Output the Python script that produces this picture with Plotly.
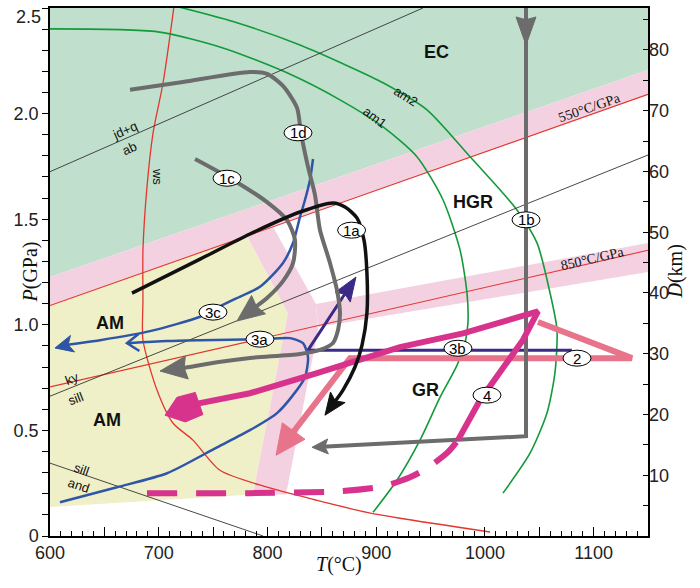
import math
import plotly.graph_objects as go

# ---------------- axes ----------------
T_RANGE = [600, 1150]
P_RANGE = [0, 2.5]
D_RANGE = [0, 86.9]
x_tickvals = [600, 650, 700, 750, 800, 850, 900, 950, 1000, 1050, 1100, 1150]
x_ticktext = ["600", "", "700", "", "800", "", "900", "", "1000", "", "1100", ""]
y_tickvals = [0, 0.5, 1.0, 1.5, 2.0, 2.5]
y_ticktext = ["0", "0.5", "1.0", "1.5", "2.0", ""]
y_top_label = "2.5"
d_tickvals = [10, 20, 30, 40, 50, 60, 70, 80]

# ---------------- background fields ----------------
ec_T = [600, 1150, 1150, 600]
ec_P = [2.5, 2.5, 2.207, 1.226]
band550_T = [600, 1150, 1150, 600]
band550_P = [1.226, 2.207, 2.091, 1.091]
am_T = [600, 781.2, 818.9, 786.7, 600]
am_P = [1.091, 1.420, 1.055, 0.197, 0.137]
solband_T = [781.2, 805.1, 844.6, 846.5, 817.1, 786.7, 818.9]
solband_P = [1.420, 1.464, 1.098, 0.975, 0.197, 0.197, 1.055]
band850_T = [844.6, 1150, 1150, 846.5]
band850_P = [1.098, 1.387, 1.250, 0.989]

# ---------------- reference lines ----------------
geo550_T = [600, 1150]
geo550_P = [1.091, 2.091]
geo850_T = [600, 1150]
geo850_P = [0.706, 1.353]
jdab_T = [600, 943]
jdab_P = [1.725, 2.5]
kysill_T = [600, 1150]
kysill_P = [0.662, 1.804]
silland_T = [600, 796]
silland_P = [0.345, 0.0]
ws_T = [714, 704, 694.8, 689.2, 685.5, 685.5, 685.5, 698.4, 713, 731.5, 756.3, 799.6, 845.6, 891.5, 921.9, 1004.7]
ws_P = [2.506, 2.146, 1.909, 1.653, 1.354, 1.117, 0.928, 0.691, 0.535, 0.454, 0.311, 0.231, 0.169, 0.112, 0.084, 0.019]
am2_T = [716.8, 768.3, 829.9, 875.9, 906.3, 946.7, 986.3, 1013.9, 1029.5, 1047.9, 1059.9, 1066.3, 1064.4, 1057.1, 1041.5, 1016.6]
am2_P = [2.507, 2.436, 2.325, 2.221, 2.146, 2.018, 1.796, 1.639, 1.544, 1.388, 1.151, 0.976, 0.772, 0.582, 0.392, 0.203]
am1_T = [600, 699.3, 759.1, 818, 866.7, 906.3, 937.5, 961.4, 977.1, 983.5, 984.4, 981.7, 974.3, 958.7, 940.3, 919.1, 897.1]
am1_P = [2.401, 2.387, 2.311, 2.193, 2.065, 1.937, 1.796, 1.592, 1.355, 1.151, 1.009, 0.913, 0.808, 0.656, 0.454, 0.264, 0.112]

# ---------------- P-T paths ----------------
p1a_T = [675.4, 738.0, 783.9, 829.9, 860.3, 871.3, 882.3, 888.8, 891.5, 891.5, 887.0, 880.5, 869.5, 852.9]
p1a_P = [1.150, 1.311, 1.430, 1.534, 1.577, 1.558, 1.506, 1.401, 1.245, 1.056, 0.904, 0.800, 0.691, 0.572]
p1b_T = [1037.8, 1037.8, 841.0]
p1b_P = [2.55, 0.4725, 0.420]
p1c_T = [733.4, 768.3, 799.6, 818.0, 825.3, 823.5, 814.3, 799.6, 784.0, 772.0]
p1c_P = [1.785, 1.686, 1.581, 1.496, 1.401, 1.292, 1.207, 1.127, 1.065, 1.018]
p1d_T = [673.6, 722.3, 783.9, 799.6, 814.3, 827.2, 830.8, 837.3, 843.7, 848.3, 857.5, 863.9, 866.7, 864.9, 860.3, 848.3, 829.9, 783.9, 753.6, 722.3, 701.2]
p1d_P = [2.113, 2.150, 2.197, 2.188, 2.131, 2.027, 1.909, 1.748, 1.615, 1.449, 1.293, 1.165, 1.056, 0.975, 0.914, 0.881, 0.862, 0.843, 0.823, 0.795, 0.781]
p3a_T = [609.2, 661.6, 707.6, 753.6, 783.9, 808.8, 823.5, 834.5, 837.3, 832.7, 820.7, 793.1, 738.0, 707.6, 670.8]
p3a_P = [0.160, 0.231, 0.297, 0.420, 0.501, 0.582, 0.667, 0.752, 0.847, 0.913, 0.937, 0.932, 0.927, 0.923, 0.913]
p3b_T = [1080, 837.3, 881.4]
p3b_P = [0.880, 0.880, 1.226]
p3c_T = [841.9, 839.1, 834.5, 829.9, 823.5, 814.3, 793.1, 768.3, 749.9, 738.0, 692.0, 646.0, 615.6, 604.6]
p3c_P = [1.785, 1.686, 1.591, 1.510, 1.387, 1.293, 1.180, 1.118, 1.071, 1.038, 0.970, 0.927, 0.904, 0.890]
p2_T = [1048.8, 1135.3, 875.9, 832.7, 807.9]
p2_P = [1.013, 0.842, 0.842, 0.558, 0.382]
p4d_T = [689.2, 783.9, 866.7, 906.3, 931.1, 946.7, 966.0, 975.2]
p4d_P = [0.203, 0.203, 0.212, 0.235, 0.278, 0.321, 0.397, 0.454]
p4s_T = [975.2, 995.5, 1035.0, 1048.8, 979.8, 921.9, 845.6, 783.9, 738.0, 705.8]
p4s_P = [0.454, 0.643, 0.928, 1.064, 0.959, 0.894, 0.771, 0.676, 0.629, 0.572]

# ellipse labels
path_labels = ["1a", "1b", "1c", "1d", "3a", "3b", "3c", "2", "4"]
path_label_T = [877.4, 1037.8, 762.8, 828.1, 793.1, 975.2, 749.9, 1084.7, 1001.9]
path_label_P = [1.448, 1.497, 1.694, 1.909, 0.932, 0.889, 1.060, 0.842, 0.667]

# colours
GREEN_BG = "#c0e0cd"
PINK_BG = "#f4d1e1"
YELLOW_BG = "#eff0c8"
RED = "#e2362e"
GREEN = "#139a3a"
GRAY = "#6c6c6c"
BLUE = "#2f55a6"
PURPLE = "#3b2a86"
SALMON = "#e8748c"
MAGENTA = "#d7338d"

# ---------------- pixel helpers (for arrow heads) ----------------
SX = 598 / (T_RANGE[1] - T_RANGE[0])
SY = 528 / (P_RANGE[1] - P_RANGE[0])


def to_px(t, p):
    return ((t - 600) * SX, -p * SY)


def to_data(x, y):
    return (600 + x / SX, -y / SY)


def unit(tip, prev):
    tx, ty = to_px(*tip)
    qx, qy = to_px(*prev)
    dx, dy = tx - qx, ty - qy
    n = math.hypot(dx, dy)
    return tx, ty, dx / n, dy / n


def head(tip, prev, L, W, notch=0.0):
    tx, ty, ux, uy = unit(tip, prev)
    nx, ny = -uy, ux
    bx, by = tx - ux * L, ty - uy * L
    pts = [(tx, ty), (bx + nx * W / 2, by + ny * W / 2),
           (bx + ux * L * notch, by + uy * L * notch),
           (bx - nx * W / 2, by - ny * W / 2), (tx, ty)]
    d = [to_data(x, y) for x, y in pts]
    return [a for a, b in d], [b for a, b in d]


def block(tip, prev, L, F, W):
    tx, ty, ux, uy = unit(tip, prev)
    nx, ny = -uy, ux
    pts = [(tx, ty),
           (tx - ux * F + nx * W / 2, ty - uy * F + ny * W / 2),
           (tx - ux * L + nx * W / 2 * 0.9, ty - uy * L + ny * W / 2 * 0.9),
           (tx - ux * L - nx * W / 2 * 0.9, ty - uy * L - ny * W / 2 * 0.9),
           (tx - ux * F - nx * W / 2, ty - uy * F - ny * W / 2), (tx, ty)]
    d = [to_data(x, y) for x, y in pts]
    return [a for a, b in d], [b for a, b in d]


def chevron(tip, prev, L, W):
    tx, ty, ux, uy = unit(tip, prev)
    nx, ny = -uy, ux
    bx, by = tx - ux * L, ty - uy * L
    pts = [(bx + nx * W / 2, by + ny * W / 2), (tx, ty), (bx - nx * W / 2, by - ny * W / 2)]
    d = [to_data(x, y) for x, y in pts]
    return [a for a, b in d], [b for a, b in d]


def trimmed(T, P, d):
    tip = (T[-1], P[-1])
    prev = (T[-2], P[-2])
    tx, ty, ux, uy = unit(tip, prev)
    nt, np_ = to_data(tx - ux * d, ty - uy * d)
    return list(T[:-1]) + [nt], list(P[:-1]) + [np_]


fig = go.Figure()


def poly(T, P, color):
    fig.add_trace(go.Scatter(x=T, y=P, mode="lines", fill="toself", fillcolor=color,
                             line=dict(width=0, color=color), hoverinfo="skip"))


def line(T, P, color, width, dash=None, shape="linear"):
    fig.add_trace(go.Scatter(x=T, y=P, mode="lines", hoverinfo="skip",
                             line=dict(color=color, width=width, dash=dash, shape=shape, smoothing=0.7)))


def filled(xy, color):
    fig.add_trace(go.Scatter(x=xy[0], y=xy[1], mode="lines", fill="toself", fillcolor=color,
                             line=dict(width=1, color=color), hoverinfo="skip"))


# backgrounds
poly(ec_T, ec_P, GREEN_BG)
poly(band550_T, band550_P, PINK_BG)
poly(am_T, am_P, YELLOW_BG)
poly(solband_T, solband_P, PINK_BG)
poly(band850_T, band850_P, PINK_BG)

# thin reference lines
line(geo550_T, geo550_P, RED, 1.1)
line(geo850_T, geo850_P, RED, 1.1)
line(ws_T, ws_P, RED, 1.3, shape="spline")
line(am2_T, am2_P, GREEN, 1.6, shape="spline")
line(am1_T, am1_P, GREEN, 1.6, shape="spline")
line(jdab_T, jdab_P, "#333333", 0.9)
line(kysill_T, kysill_P, "#333333", 0.9)
line(silland_T, silland_P, "#333333", 0.9)

# path 2 (salmon)
t, p = trimmed(p2_T, p2_P, 18)
line(t, p, SALMON, 6)
filled(head((p2_T[-1], p2_P[-1]), (p2_T[-2], p2_P[-2]), 30, 28), SALMON)

# path 3b (purple)
t, p = trimmed(p3b_T, p3b_P, 14)
line(t, p, PURPLE, 3)
filled(head((p3b_T[-1], p3b_P[-1]), (p3b_T[-2], p3b_P[-2]), 24, 18, notch=0.15), PURPLE)

# path 3a / 3c (blue)
line(p3a_T, p3a_P, BLUE, 2.5, shape="spline")
cv = chevron((p3a_T[-1], p3a_P[-1]), (p3a_T[-2], p3a_P[-2]), 12, 17)
line(cv[0], cv[1], BLUE, 2.5)
t, p = trimmed(p3c_T, p3c_P, 10)
line(t, p, BLUE, 2.5, shape="spline")
filled(head((p3c_T[-1], p3c_P[-1]), (p3c_T[-2], p3c_P[-2]), 18, 17, notch=0.25), BLUE)

# gray paths 1b, 1c, 1d
t, p = trimmed(p1b_T, p1b_P, 10)
line(t, p, GRAY, 4)
filled(head((p1b_T[0], 2.325), (p1b_T[0], 2.6), 28, 20, notch=0.1), GRAY)
filled(head((p1b_T[-1], p1b_P[-1]), (p1b_T[-2], p1b_P[-2]), 16, 15, notch=0.2), GRAY)
t, p = trimmed(p1c_T, p1c_P, 16)
line(t, p, GRAY, 4, shape="spline")
filled(head((p1c_T[-1], p1c_P[-1]), (p1c_T[-2], p1c_P[-2]), 27, 23, notch=0.1), GRAY)
t, p = trimmed(p1d_T, p1d_P, 16)
line(t, p, GRAY, 4, shape="spline")
filled(head((p1d_T[-1], p1d_P[-1]), (p1d_T[-2], p1d_P[-2]), 27, 23, notch=0.1), GRAY)

# path 4 (magenta)
line(p4d_T, p4d_P, MAGENTA, 6, dash="30px,19px", shape="spline")
t, p = trimmed(p4s_T, p4s_P, 20)
line(t, p, MAGENTA, 6)
filled(block((p4s_T[-1], p4s_P[-1]), (p4s_T[-2], p4s_P[-2]), 36, 17, 26), MAGENTA)

# path 1a (black)
t, p = trimmed(p1a_T, p1a_P, 12)
line(t, p, "#111111", 3.5, shape="spline")
filled(head((p1a_T[-1], p1a_P[-1]), (p1a_T[-2], p1a_P[-2]), 22, 18, notch=0.2), "#111111")

# dummy trace for right axis
fig.add_trace(go.Scatter(x=[600], y=[0], yaxis="y2", mode="markers",
                         marker=dict(opacity=0), hoverinfo="skip"))

# ellipse labels
shapes = []
annotations = []
for lab, tt, pp in zip(path_labels, path_label_T, path_label_P):
    shapes.append(dict(type="circle", xref="x", yref="y", xsizemode="pixel", ysizemode="pixel",
                       xanchor=tt, yanchor=pp, x0=-14, x1=14, y0=-8, y1=8,
                       fillcolor="white", line=dict(color="black", width=1), layer="above"))
    annotations.append(dict(x=tt, y=pp, text=lab, showarrow=False,
                            font=dict(family="Liberation Sans", size=15, color="black")))

SANS = "Liberation Sans"
SERIF = "Liberation Serif"


def txt(x, y, s, size=13, angle=0, bold=False, family=SANS):
    annotations.append(dict(x=x, y=y, text=("<b>%s</b>" % s) if bold else s, showarrow=False,
                            textangle=angle, font=dict(family=family, size=size, color="#111111")))


txt(955.9, 2.292, "EC", 18, bold=True)
txt(989.0, 1.581, "HGR", 18, bold=True)
txt(944.9, 0.690, "GR", 18, bold=True)
txt(655.2, 1.007, "AM", 18, bold=True)
txt(652.4, 0.548, "AM", 18, bold=True)
txt(669.0, 1.918, "jd+q", 13, -24)
txt(672.7, 1.837, "ab", 13, -24)
txt(698.4, 1.700, "ws", 13, 90)
txt(927.4, 2.080, "am2", 13, 32)
txt(898.9, 1.980, "am1", 13, 37)
txt(1096.6, 2.030, "550°C/GPa", 14, -19, family=SERIF)
txt(1099.4, 1.316, "850°C/GPa", 14, -13, family=SERIF)
txt(620.2, 0.747, "ky", 13, -21)
txt(623.9, 0.653, "sill", 13, -21)
txt(629.4, 0.316, "sill", 13, 19)
txt(626.7, 0.240, "and", 13, 19)

# top y tick label (nudged down so it stays inside the page, as in the original)
annotations.append(dict(xref="paper", yref="y", x=0, y=P_RANGE[1], xanchor="right", yanchor="top",
                        xshift=-7, yshift=3, text=y_top_label, showarrow=False,
                        font=dict(family=SANS, size=18, color="#222222")))

# axis titles
annotations.append(dict(xref="paper", yref="paper", x=0, y=0.5, xshift=-34, text="<i>P</i>(GPa)",
                        textangle=-90, showarrow=False,
                        font=dict(family=SERIF, size=20, color="#111111")))
annotations.append(dict(xref="paper", yref="paper", x=1, y=0.5, xshift=40, text="<i>D</i>(km)",
                        textangle=-90, showarrow=False,
                        font=dict(family=SERIF, size=20, color="#111111")))
annotations.append(dict(xref="paper", yref="paper", x=0.483, y=0, yshift=-42, text="<i>T</i>(°C)",
                        showarrow=False, font=dict(family=SERIF, size=20, color="#111111")))

tickfont = dict(family=SANS, size=18, color="#222222")
fig.update_layout(
    width=700, height=588,
    margin=dict(l=50, r=52, t=8, b=52, autoexpand=False),
    plot_bgcolor="white", paper_bgcolor="white",
    showlegend=False,
    shapes=shapes, annotations=annotations,
    xaxis=dict(range=T_RANGE, tickvals=x_tickvals, ticktext=x_ticktext, ticks="inside",
               ticklen=9, tickcolor="black", tickwidth=1, automargin=False,
               ticklabeloverflow="allow",
               minor=dict(tick0=600, dtick=10, ticks="inside", ticklen=5, tickcolor="black"),
               showline=True, linecolor="black", linewidth=1.5, mirror=True,
               showgrid=False, zeroline=False, tickfont=tickfont),
    yaxis=dict(range=P_RANGE, tickvals=y_tickvals, ticktext=y_ticktext, ticks="outside",
               ticklen=6, tickcolor="black", automargin=False, ticklabeloverflow="allow",
               minor=dict(dtick=0.1, ticks="outside", ticklen=6, tickcolor="black"),
               showline=True, linecolor="black", linewidth=1.5, mirror=True,
               showgrid=False, zeroline=False, tickfont=tickfont),
    yaxis2=dict(range=D_RANGE, overlaying="y", side="right", tickvals=d_tickvals,
                ticks="inside", ticklen=5, tickcolor="black", automargin=False,
                ticklabeloverflow="allow",
                minor=dict(dtick=5, ticks="inside", ticklen=5, tickcolor="black"),
                showline=False, showgrid=False, zeroline=False, tickfont=tickfont),
)

fig.write_html("out.html", config={"displayModeBar": False},
               post_script="document.body.style.margin='0';")
